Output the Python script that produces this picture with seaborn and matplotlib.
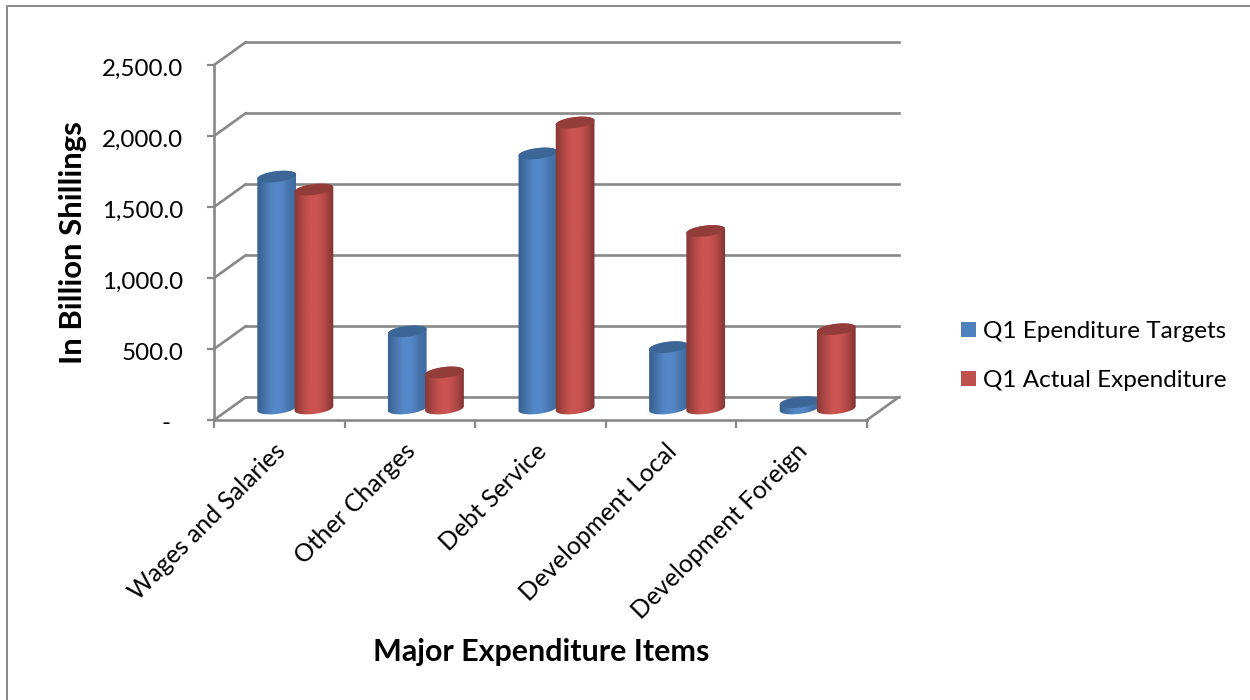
import numpy as np
import pandas as pd
import matplotlib
matplotlib.use("Agg")
import matplotlib.pyplot as plt
import seaborn as sns
from matplotlib.colors import LinearSegmentedColormap
from matplotlib.lines import Line2D
from matplotlib.patches import ConnectionPatch, Polygon
from matplotlib.path import Path
from matplotlib.transforms import ScaledTranslation

categories = ["Wages and Salaries", "Other Charges", "Debt Service",
              "Development Local", "Development Foreign"]
targets = [1633, 543, 1796, 432, 44]
actuals = [1542, 254, 2014, 1250, 558]
series_names = ["Q1 Ependiture Targets", "Q1 Actual Expenditure"]
y_ticks = [0, 500, 1000, 1500, 2000, 2500]
y_tick_labels = ["-  ", "500.0", "1,000.0", "1,500.0", "2,000.0", "2,500.0"]

GRID = "#888888"
LINE_W = 1.9
BASE_COLORS = ["#4F81BD", "#C0504D"]
CAP_COLORS = ["#3B6695", "#933D3B"]
SHADES = [["#35608F", "#4674AC", "#5588C8", "#5588C8", "#4674AC", "#3E6B9E"],
          ["#853836", "#AE4744", "#CB5452", "#CB5452", "#AE4744", "#7E3331"]]

W, H = 1250, 700
sns.set_theme(style="white")
plt.rcParams["font.family"] = ["Lato", "DejaVu Sans"]

fig = plt.figure(figsize=(W / 100, H / 100), dpi=100, facecolor="white")


def axes_at(left, top, right, bottom):
    """Create a transparent axes from pixel bounds."""
    a = fig.add_axes([left / W, 1 - bottom / H, (right - left) / W, (bottom - top) / H])
    a.patch.set_alpha(0)
    a.set_xlim(-0.5, 4.5)
    a.set_ylim(0, 2500)
    return a


def nudge(label, dx, dy):
    """Shift a text by a pixel offset, with y pointing up."""
    label.set_transform(label.get_transform()
                        + ScaledTranslation(dx / 100, dy / 100, fig.dpi_scale_trans))


# Three planes of the pseudo-3D box: back wall, bar plane, front edge
FRONT = (214, 65, 867, 420)
DEPTH = (32, -23)
back = axes_at(FRONT[0] + DEPTH[0], FRONT[1] + DEPTH[1], FRONT[2] + DEPTH[0], FRONT[3] + DEPTH[1])
mid = axes_at(FRONT[0] + DEPTH[0] / 2, FRONT[1] + DEPTH[1] / 2, FRONT[2] + DEPTH[0] / 2, FRONT[3] + DEPTH[1] / 2)
front = axes_at(*FRONT)

# Back wall gridlines and the diagonals that link them to the front edge
back.set_axis_off()
for v in y_ticks:
    back.plot([-0.5, 4.5], [v, v], color=GRID, lw=LINE_W, solid_capstyle="projecting", clip_on=False)
    back.add_artist(ConnectionPatch((-0.5, v), (-0.5, v), coordsA=back.transData,
                                    coordsB=front.transData, color=GRID, lw=LINE_W))
back.add_artist(ConnectionPatch((4.5, 0), (4.5, 0), coordsA=back.transData,
                                coordsB=front.transData, color=GRID, lw=LINE_W))

# Bars
df = pd.DataFrame({
    "item": categories * 2,
    "value": targets + actuals,
    "series": [series_names[0]] * 5 + [series_names[1]] * 5,
})
sns.barplot(data=df, x="item", y="value", hue="series", order=categories,
            hue_order=series_names, palette=BASE_COLORS, width=0.57,
            saturation=1, linewidth=0, ax=mid)
mid.set_xlim(-0.5, 4.5)
mid.set_ylim(0, 2500)

px_x = (FRONT[2] - FRONT[0]) / 5
px_y = (FRONT[3] - FRONT[1]) / 2500
HALF_W, HALF_H, TILT = 19.5, 5.4, np.radians(7)


def ellipse_pts(cx, cy, t):
    """Points on a tilted disc given in data units; the shape is defined in pixels."""
    ex = HALF_W * np.cos(t) * np.cos(TILT) - HALF_H * np.sin(t) * np.sin(TILT)
    ey = HALF_W * np.cos(t) * np.sin(TILT) + HALF_H * np.sin(t) * np.cos(TILT)
    return np.column_stack([cx + ex / px_x, cy + ey / px_y])


z = 3
for s, container in enumerate(mid.containers):
    cmap = LinearSegmentedColormap.from_list(f"shade{s}", SHADES[s])
    for bar in container:
        cx = bar.get_x() + bar.get_width() / 2
        val = bar.get_height()
        outline = np.vstack([
            ellipse_pts(cx, val, np.linspace(np.pi, 0, 40)),
            ellipse_pts(cx, 0, np.linspace(0, -np.pi, 40)),
        ])
        body = Path(np.vstack([outline, outline[:1]]), closed=True)
        bar.set_clip_box(fig.bbox)
        bar.set_clip_path(body, mid.transData)
        bar.set_zorder(z)
        half = HALF_W * 1.02 / px_x
        # The shaded surface reaches below the baseline for the rounded foot of the cylinder
        img = mid.imshow(np.linspace(0, 1, 64)[None, :], cmap=cmap, aspect="auto",
                         extent=(cx - half, cx + half, -80, val + 80),
                         zorder=z + 0.1, interpolation="bilinear")
        img.set_clip_box(fig.bbox)
        img.set_clip_path(body, mid.transData)
        mid.add_patch(Polygon(ellipse_pts(cx, val, np.linspace(0, 2 * np.pi, 80)),
                              closed=True, facecolor=CAP_COLORS[s], edgecolor="none",
                              zorder=z + 0.2, clip_on=False))
        z += 1
mid.set_xlim(-0.5, 4.5)
mid.set_ylim(0, 2500)
sns.move_legend(mid, "center left", bbox_to_anchor=(961 / W, 1 - 356 / H),
                bbox_transform=fig.transFigure, title=None, frameon=False,
                fontsize=17.45, handlelength=0.62, handleheight=0.62, handletextpad=0.28,
                labelspacing=1.15, borderpad=0, borderaxespad=0, labelcolor="black")
mid.set_xlabel("")
mid.set_ylabel("")
mid.set_axis_off()

# Front edge: axis lines, ticks and labels
sns.despine(ax=front)
for side in ("left", "bottom"):
    front.spines[side].set_color(GRID)
    front.spines[side].set_linewidth(LINE_W)
front.set_yticks(y_ticks, y_tick_labels, fontsize=17.4, color="black")
front.set_xticks(np.arange(-0.5, 5, 1), [""] * 6)
front.set_xticks(np.arange(5), categories, minor=True, fontsize=17.8, color="black",
                 rotation=45, ha="right", rotation_mode="anchor")
front.tick_params(axis="y", length=5, width=1.6, color=GRID, left=True, pad=17)
front.tick_params(axis="x", which="major", length=6, width=1.6, color=GRID, bottom=True)
front.tick_params(axis="x", which="minor", length=0, pad=13, bottom=False)
fig.canvas.draw()
for label in front.get_yticklabels():
    nudge(label, 0, -2)
for label in front.get_xticklabels(minor=True):
    nudge(label, -6, -1)
front.set_xlabel("Major Expenditure Items", fontsize=21.9, fontweight="bold", color="black")
front.set_ylabel("In Billion Shillings", fontsize=22.4, fontweight="bold", color="black")
front.xaxis.set_label_coords((541 - FRONT[0]) / 653, (FRONT[3] - 652) / 355, transform=front.transAxes)
front.xaxis.label.set_va("center")
front.yaxis.set_label_coords((73 - FRONT[0]) / 653, (FRONT[3] - 243) / 355, transform=front.transAxes)
front.yaxis.label.set_va("center")

# Chart area border, cut by the edges of the figure
fig.add_artist(Line2D([6.5 / W, 6.5 / W, 1], [0, 1 - 5.5 / H, 1 - 5.5 / H],
                      transform=fig.transFigure, color=GRID, lw=1.4))

fig.savefig("out.png", dpi=100, facecolor="white")
